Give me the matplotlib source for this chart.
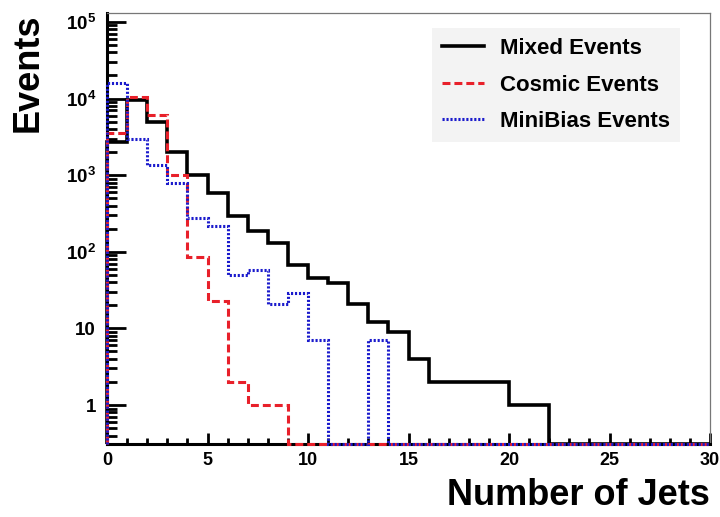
import matplotlib.pyplot as plt
import numpy as np

# jet multiplicity, one bin per integer from 0 to 30
bins = np.arange(0, 31)

mixed = [2700, 9500, 5000, 2000, 1000, 580, 290, 185, 130, 67,
         45, 39, 21, 12, 9, 4, 2, 2, 2, 2,
         1, 1, 0, 0, 0, 0, 0, 0, 0, 0]
cosmic = [3500, 10500, 6100, 1000, 85, 23, 2, 1, 1, 0,
          0, 0, 0, 0, 0, 0, 0, 0, 0, 0,
          0, 0, 0, 0, 0, 0, 0, 0, 0, 0]
minibias = [16000, 3000, 1350, 790, 275, 220, 50, 57, 21, 29,
            7, 0, 0, 7, 0, 0, 0, 0, 0, 0,
            0, 0, 0, 0, 0, 0, 0, 0, 0, 0]

yticks = [1, 10, 1e2, 1e3, 1e4, 1e5]
ylabels = ['1', '10', r'$10^{2}$', r'$10^{3}$', r'$10^{4}$', r'$10^{5}$']

plt.rcParams['font.family'] = 'Liberation Sans'
plt.rcParams['font.weight'] = 'bold'
plt.rcParams['mathtext.fontset'] = 'custom'
plt.rcParams['mathtext.rm'] = 'Liberation Sans:bold'
plt.rcParams['mathtext.it'] = 'Liberation Sans:bold'
plt.rcParams['mathtext.bf'] = 'Liberation Sans:bold'

ymin, ymax = 0.31, 1.32e5

fig = plt.figure(figsize=(7.2, 5.17), dpi=100)
ax = fig.add_axes([107 / 720, 1 - 444 / 517, 603 / 720, (444 - 12.7) / 517])


def draw(vals, **kw):
    # empty bins sit on the bottom of the log axis
    v = np.array(vals, dtype=float)
    v = np.where(v > 0, v, ymin)
    return ax.stairs(v, bins, baseline=ymin, zorder=3, clip_on=False, **kw)


draw(mixed, color='black', lw=2.6, label='Mixed Events')
draw(cosmic, color='#e8202a', lw=2.2, linestyle=(0, (2.6, 1.3)), label='Cosmic Events')
draw(minibias, color='#1a1acc', lw=2.2, linestyle=(0, (0.7, 0.6)), label='MiniBias Events')

ax.set_yscale('log')
ax.set_xlim(0, 30)
ax.set_ylim(ymin, ymax)
ax.set_yticks(yticks)
ax.set_yticklabels(ylabels)
ax.set_xticks([0, 5, 10, 15, 20, 25, 30])
ax.set_xticks(np.arange(0, 31), minor=True)
ax.yaxis.set_minor_locator(plt.matplotlib.ticker.LogLocator(base=10, subs=np.arange(2, 10)))
ax.yaxis.set_minor_formatter(plt.NullFormatter())

ax.tick_params(axis='x', which='major', direction='in', length=8, width=2, labelsize=13, pad=6)
ax.tick_params(axis='x', which='minor', direction='in', length=4, width=2)
ax.tick_params(axis='y', which='major', direction='in', length=14, width=2, labelsize=13.5, pad=8)
ax.tick_params(axis='y', which='minor', direction='in', length=7, width=2)

for s in ['left', 'bottom']:
    ax.spines[s].set_linewidth(2.2)
    ax.spines[s].set_color('black')
for s in ['top', 'right']:
    ax.spines[s].set_linewidth(0.9)
    ax.spines[s].set_color('#777777')

fig.text(28 / 720, 1 - 13 / 517, 'Events', rotation=90, ha='center', va='top',
         fontsize=26, fontweight='bold')
fig.text(710 / 720, 1 - 505 / 517, 'Number of Jets', ha='right', va='baseline',
         fontsize=26, fontweight='bold')

leg = ax.legend(loc='upper left', bbox_to_anchor=(432 / 720, 1 - 28 / 517),
                bbox_transform=fig.transFigure, fontsize=16, frameon=True,
                fancybox=False, handlelength=1.9, handletextpad=0.7,
                labelspacing=0.7, borderpad=0.45, borderaxespad=0)
leg.get_frame().set_facecolor('#f3f3f3')
leg.get_frame().set_edgecolor('none')
leg.get_frame().set_alpha(1)

fig.savefig('out.png', dpi=100)
